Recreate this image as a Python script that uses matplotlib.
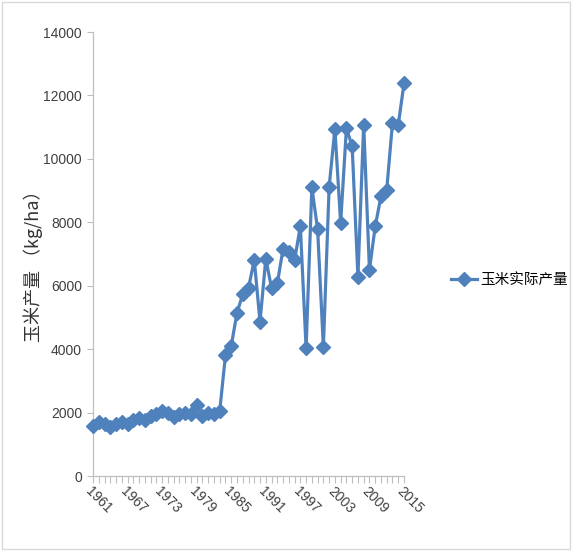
import matplotlib.pyplot as plt
from matplotlib.patches import Rectangle

plt.rcParams['font.family'] = ['Noto Sans CJK SC', 'DejaVu Sans']

# yields (kg/ha), 1961-2015
years = list(range(1961, 2016))
yields = [1580, 1700, 1650, 1560, 1640, 1700, 1650, 1780, 1820, 1760,
          1880, 1950, 2050, 1980, 1870, 1950, 2000, 1960, 2250, 1900,
          2000, 1950, 2050, 3800, 4100, 5140, 5730, 5930, 6810, 4860,
          6850, 5930, 6070, 7160, 7050, 6800, 7880, 4040, 9100, 7780,
          4070, 9120, 10940, 7980, 10960, 10400, 6280, 11080, 6500, 7870,
          8820, 9030, 11130, 11070, 12380]
label_years = list(range(1961, 2016, 6))
y_ticks = list(range(0, 14001, 2000))

series_name = '玉米实际产量'
y_title = '玉米产量 （kg/ha）'

fig = plt.figure(figsize=(5.72, 5.52), dpi=100)
ax = fig.add_axes([93 / 572, 76 / 552, 311 / 572, 444 / 552])

blue = '#4F81BD'
axis_grey = '#BFBFBF'

line, = ax.plot(years, yields, color=blue, linewidth=2.3, marker='D',
                markersize=7.5, markerfacecolor=blue, markeredgecolor=blue,
                label=series_name, clip_on=False, zorder=3)

ax.set_xlim(years[0], years[-1])
ax.set_ylim(0, 14000)
ax.set_yticks(y_ticks)
ax.set_yticklabels([str(v) for v in y_ticks], family='Liberation Sans',
                   fontsize=10, color='#404040')

ax.set_xticks(years, minor=True)
ax.set_xticks(label_years)
ax.set_xticklabels([str(y) for y in label_years], family='Liberation Sans',
                   fontsize=10, color='#404040', rotation=-45,
                   ha='left', va='top', rotation_mode='anchor')

ax.tick_params(axis='x', which='both', direction='out', length=5,
               color=axis_grey, width=0.8, pad=1)
ax.tick_params(axis='y', direction='out', length=4, color=axis_grey,
               width=0.8, pad=4)

for side in ['top', 'right']:
    ax.spines[side].set_visible(False)
for side in ['left', 'bottom']:
    ax.spines[side].set_color(axis_grey)
    ax.spines[side].set_linewidth(0.9)

fig.text(33 / 572, 1 - 262 / 552, y_title, rotation=90, ha='center',
         va='center', fontsize=13, color='#333333')

fig.legend(handles=[line], loc='center left',
           bbox_to_anchor=(438 / 572, 1 - 280 / 552), frameon=False,
           fontsize=10.5, handlelength=1.8, handletextpad=0.2)

fig.patches.append(Rectangle((0.004, 0.006), 0.992, 0.99,
                             transform=fig.transFigure, fill=False,
                             edgecolor='#D9D9D9', linewidth=1))

fig.savefig('out.png', dpi=100)
